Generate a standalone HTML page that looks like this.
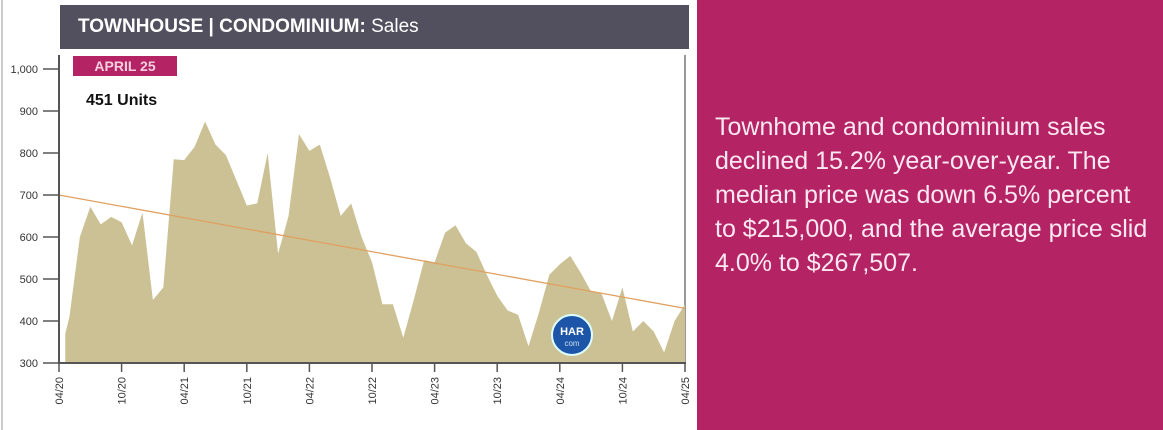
<!DOCTYPE html>
<html><head><meta charset="utf-8"><style>
body{margin:0;width:1163px;height:430px;overflow:hidden;background:#fff;font-family:"Liberation Sans",sans-serif;position:relative}
#title{position:absolute;left:60px;top:5px;width:629px;height:44px;background:#52505e;color:#fff;font-size:19px;line-height:44px;padding-left:18px;box-sizing:border-box}
#panel{position:absolute;left:697px;top:0;width:466px;height:430px;background:#b42363}
#panel p{position:absolute;left:18px;top:110px;margin:0;color:#fbe8f2;font-size:25px;line-height:34px;width:440px}
svg{position:absolute;left:0;top:0}
</style></head><body>
<div id="title"><b>TOWNHOUSE | CONDOMINIUM:</b> Sales</div>
<div id="panel"><p>Townhome and condominium sales declined 15.2% year-over-year. The median price was down 6.5% percent to $215,000, and the average price slid 4.0% to $267,507.</p></div>
<svg id="chart" width="697" height="430"></svg>
<script>
const sales=[370,410,600,672,630,648,635,580,658,450,480,785,783,815,875,820,795,735,675,680,800,560,650,845,805,820,740,650,680,600,540,440,440,360,450,545,540,610,628,585,565,510,460,425,415,340,420,510,535,555,515,470,465,400,480,375,400,375,325,400,440];
const yTicks=[300,400,500,600,700,800,900,1000];
const xTicks=["04/20","10/20","04/21","10/21","04/22","10/22","04/23","10/23","04/24","10/24","04/25"];
const trend=[700,430];
const NS="http://www.w3.org/2000/svg";
const svg=document.getElementById('chart');
const X=m=>59+m*(626/60);
const Y=v=>363-(v-300)*0.42;
function mk(t,a){const e=document.createElementNS(NS,t);for(const k in a)e.setAttribute(k,a[k]);svg.appendChild(e);return e;}
mk('line',{x1:2,y1:0,x2:2,y2:430,stroke:'#ccc','stroke-width':2});
mk('line',{x1:685,y1:55,x2:685,y2:363,stroke:'#999','stroke-width':2});
let d=`M${X(0.6)},${Y(300)}`;
sales.forEach((v,i)=>{d+=` L${X(i===0?0.6:i)},${Y(v)}`;});
d+=` L${X(sales.length-1)},${Y(300)} Z`;
const area=mk('path',{d:d,fill:'#cbc194'});


const tl=mk('line',{x1:X(0),y1:Y(trend[0]),x2:X(60),y2:Y(trend[1]),stroke:'#e0a060','stroke-width':1.3});


mk('line',{x1:59,y1:55,x2:59,y2:364,stroke:'#555','stroke-width':2});
mk('line',{x1:59,y1:363,x2:686,y2:363,stroke:'#555','stroke-width':2});
yTicks.forEach(v=>{
 mk('line',{x1:43,y1:Y(v),x2:58,y2:Y(v),stroke:'#555','stroke-width':1.5});
 const t=mk('text',{x:38,y:Y(v)+4,'text-anchor':'end','font-size':11,fill:'#333'});
 t.textContent=v===1000?'1,000':v;
 
 
});
xTicks.forEach((s,i)=>{
 const x=X(i*6);
 mk('line',{x1:x,y1:363,x2:x,y2:372,stroke:'#555','stroke-width':1.5});
 const t=mk('text',{x:0,y:0,transform:`translate(${x+4},377) rotate(-90)`,'text-anchor':'end','font-size':11,fill:'#333'});
 t.textContent=s;
 
 
});
const b=mk('rect',{x:73,y:56,width:104,height:20,fill:'#b42363'});


const bt=mk('text',{x:125,y:71,'text-anchor':'middle','font-size':14,'font-weight':'bold',fill:'#f6d0e2'});bt.textContent='APRIL 25';
const u=mk('text',{x:86,y:105,'font-size':16,'font-weight':'bold',fill:'#111'});u.textContent='451 Units';


const c=mk('circle',{cx:572,cy:335,r:20,fill:'#1d56a8',stroke:'#dff','stroke-width':2});


const h1=mk('text',{x:572,y:335,'text-anchor':'middle','font-size':11,'font-weight':'bold',fill:'#fff'});h1.textContent='HAR';
const h2=mk('text',{x:572,y:346,'text-anchor':'middle','font-size':8,fill:'#cde'});h2.textContent='com';
</script>
</body></html>
